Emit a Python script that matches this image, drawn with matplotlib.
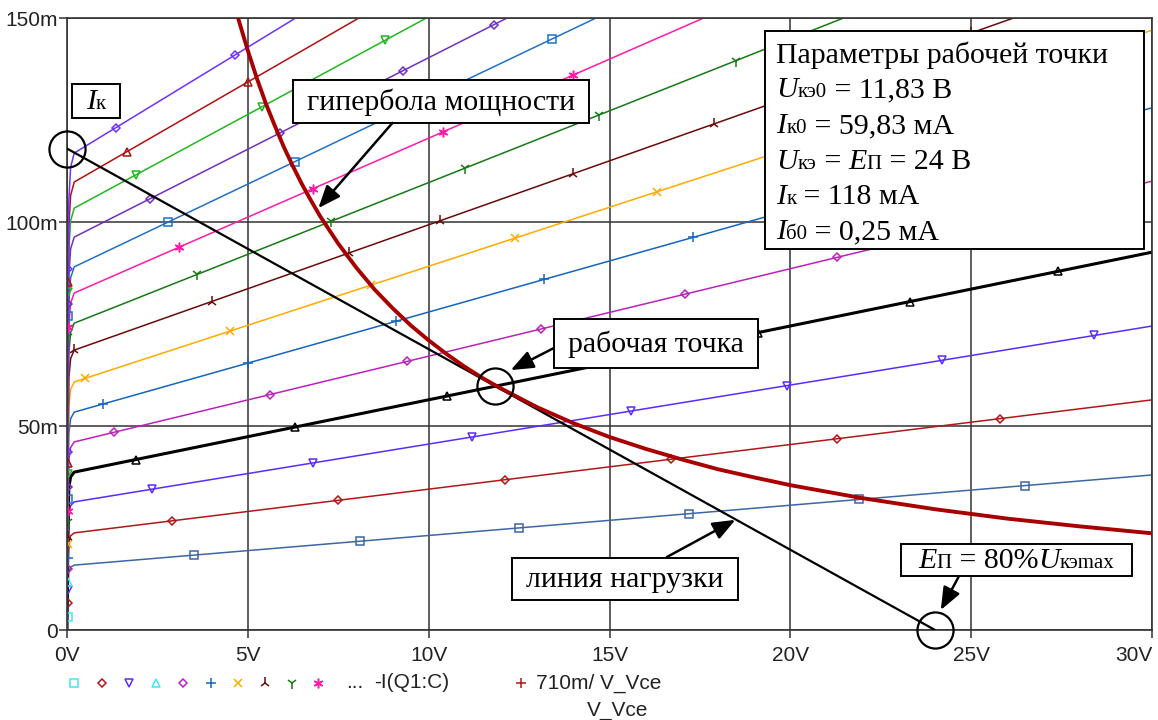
import numpy as np
import matplotlib.pyplot as plt
from matplotlib.lines import Line2D
from matplotlib.patches import Rectangle
from matplotlib.offsetbox import TextArea, HPacker, AnnotationBbox

# --- data ---
# collector current at the knee (~0.2 V) and at 30 V for each base-current step, mA
ic_knee = [15.9, 23.8, 31.4, 38.7, 46.1, 53.4, 60.8, 68.6, 75.2, 82.6, 89.0, 96.3, 103.4, 109.8, 116.9]
ic_30v = [38.0, 56.4, 74.5, 92.6, 110, 128, 147, 162, 180, 198, 215, 230, 246, 262, 278]
# shape of the saturation part, shared by all curves
knee_v = [0.0, 0.02, 0.05, 0.1, 0.2]
knee_frac = [0.0, 0.5, 0.9, 0.97, 1.0]

curve_colors = ['#3d66a3', '#b01818', '#5b2bff', '#000000', '#bb22bb', '#1565c0', '#ffaa00',
                '#6a0a0a', '#157a15', '#ff1aa8', '#2070c8', '#7030c0', '#20b820', '#b01010', '#7030ff']
curve_markers = ['s', 'D', 'v', '^', 'D', '+', 'x', '2', '1', 'ast', 's', 'D', 'v', '^', 'D']
marker_v = [
    [3.5, 8.1, 12.5, 17.2, 21.9, 26.5],
    [2.9, 7.5, 12.1, 16.7, 21.3, 25.8],
    [2.35, 6.8, 11.2, 15.6, 19.9, 24.2, 28.4],
    [1.9, 6.3, 10.5, 14.8, 19.1, 23.3, 27.4],
    [1.3, 5.6, 9.4, 13.1, 17.1, 21.3, 25.3],
    [1.0, 5.0, 9.1, 13.2, 17.3, 21.4, 25.5],
    [0.5, 4.5, 8.4, 12.4, 16.3, 20.3, 24.3],
    [0.2, 4.0, 7.8, 10.3, 14.0, 17.9, 21.5, 25.0],
    [3.6, 7.3, 11.0, 14.7, 18.5, 22.2],
    [3.1, 6.8, 10.4, 14.0],
    [2.8, 6.3, 9.9, 13.4],
    [2.3, 5.9, 9.3, 11.8],
    [1.9, 5.4, 8.8],
    [1.65, 5.0],
    [1.35, 4.65],
]

# markers sitting on the steep part near 0 V
vert_ic = [3.2, 6.6, 9.8, 11.8, 15.0, 17.6, 21.1, 22.8, 26.5, 29.2, 32.1, 35.0, 38.2, 40.9, 43.6,
           71.8, 74.3, 77.0, 79.9, 82.8, 85.3, 88.5]
vert_markers = ['s', 'D', 'v', '^', 'D', '+', 'x', '2', '1', 'ast', 's', 'D', 'v', '^', 'D',
                '1', 'ast', 's', 'D', 'v', '^', 'D']
vert_colors = ['#40e8f0', '#b01818', '#5b2bff', '#40e8f0', '#bb22bb', '#1565c0', '#ffaa00', '#6a0a0a',
               '#157a15', '#ff1aa8', '#2070c8', '#7030c0', '#20b820', '#b01010', '#7030ff',
               '#157a15', '#ff1aa8', '#2070c8', '#7030c0', '#20b820', '#b01010', '#7030ff']

# power hyperbola 710m / V_Vce
hyp_v = [4.73, 5, 5.25, 5.5, 5.75, 6, 6.25, 6.5, 6.75, 7, 7.5, 8, 8.5, 9, 9.5, 10, 10.5, 11, 11.5,
         12, 13, 14, 15, 16, 17, 18, 19, 20, 22, 24, 26, 28, 30]
hyp_i = [150, 142, 135.2, 129, 123.5, 118.3, 113.6, 109.2, 105.2, 101.4, 94.7, 88.8, 83.5, 78.9,
         74.7, 71.0, 67.6, 64.5, 61.7, 59.2, 54.6, 50.7, 47.3, 44.4, 41.8, 39.4, 37.4, 35.5,
         32.3, 29.6, 27.3, 25.4, 23.7]

# load line and operating point
load_v = [0, 24]
load_i = [118, 0]
q_v, q_i = 11.83, 59.83

x_ticks = [0, 5, 10, 15, 20, 25, 30]
x_labels = ['0V', '5V', '10V', '15V', '20V', '25V', '30V']
y_ticks = [0, 50, 100, 150]
y_labels = ['0', '50m', '100m', '150m']

legend_markers = ['s', 'D', 'v', '^', 'D', '+', 'x', '2', '1', 'ast']
legend_colors = ['#40e8f0', '#b01818', '#5b2bff', '#40e8f0', '#bb22bb', '#1565c0', '#ffaa00',
                 '#6a0a0a', '#157a15', '#ff1aa8']

SERIF = 'Liberation Serif'
SANS = 'Liberation Sans'
W, H = 1158, 720
TICK_FS = 15


def mk(m):
    return (6, 2, 0) if m == 'ast' else m


def mstyle(m, c):
    open_m = m in ('s', 'D', 'v', '^')
    size = {'s': 5.5, 'D': 4.5, 'v': 6, '^': 6, '+': 7, 'x': 6, '1': 8, '2': 8, 'ast': 7}[m]
    return dict(marker=mk(m), ms=size, mec=c, mfc='none' if open_m else c, mew=1.1, ls='none')


fig = plt.figure(figsize=(W / 100, H / 100), dpi=100)
ax = fig.add_axes([67 / W, 90 / H, (1152 - 67) / W, (630 - 18) / H])
ax.set_xlim(0, 30)
ax.set_ylim(0, 150)

ax.set_xticks(x_ticks)
ax.set_xticklabels(x_labels, fontfamily=SANS, fontsize=TICK_FS, color='#222222')
ax.get_xticklabels()[-1].set_horizontalalignment('right')
ax.set_yticks(y_ticks)
ax.set_yticklabels(y_labels, fontfamily=SANS, fontsize=TICK_FS, color='#222222')
ax.tick_params(direction='out', length=5.5, width=1.1, color='#333333')
ax.tick_params(axis='x', pad=6)
ax.tick_params(axis='y', pad=1)
ax.grid(True, color='#333333', lw=1.1)
ax.set_axisbelow(True)
for s in ax.spines.values():
    s.set_color('#333333')
    s.set_linewidth(1.2)

# output characteristics
for k in range(len(ic_knee)):
    v = knee_v + [30]
    i = [ic_knee[k] * f for f in knee_frac] + [ic_30v[k]]
    lw = 2.2 if curve_colors[k] == '#000000' else 1.1
    ax.plot(v, i, color=curve_colors[k], lw=lw, zorder=2)
    mv = marker_v[k]
    ax.plot(mv, np.interp(mv, v, i), zorder=2, **mstyle(curve_markers[k], curve_colors[k]))

for ic, m, c in zip(vert_ic, vert_markers, vert_colors):
    ax.plot([0.04], [ic], zorder=2.5, **mstyle(m, c))

# power hyperbola and load line
ax.plot(load_v, load_i, color='black', lw=1.6, zorder=3)
ax.plot(hyp_v, hyp_i, color='#a80000', lw=2.8, zorder=3.5, solid_joinstyle='round')

# circles
for cv, ci in [(0, 118), (q_v, q_i), (24, 0)]:
    ax.plot([cv], [ci], 'o', ms=26, mfc='none', mec='black', mew=1.6, clip_on=False, zorder=5)


def rich(parts):
    kids = [TextArea(t, textprops=dict(fontsize=fs, fontstyle=st, fontfamily=SERIF, color='black'))
            for t, fs, st in parts]
    return HPacker(children=kids, align='baseline', pad=0, sep=0)


def put(parts, x, y, ha=0.5):
    ab = AnnotationBbox(rich(parts), (x, y), xycoords='data', box_alignment=(ha, 0.5),
                        frameon=False, pad=0, zorder=7, annotation_clip=False)
    ax.add_artist(ab)


def frame(x0, x1, y0, y1):
    ax.add_patch(Rectangle((x0, y0), x1 - x0, y1 - y0, facecolor='white', edgecolor='black',
                           lw=1.4, zorder=6, clip_on=False))


def arrow(x0, y0, x1, y1):
    ax.annotate('', xy=(x1, y1), xytext=(x0, y0), zorder=8,
                arrowprops=dict(arrowstyle='-|>,head_length=0.55,head_width=0.22',
                                mutation_scale=25, color='black', lw=1.8, shrinkA=0, shrinkB=0))


FS, SUB = 21.5, 15

frame(0.14, 1.47, 125.5, 133.8)
put([('I', FS, 'italic'), ('к', SUB, 'normal')], 0.80, 129.5)

frame(6.26, 14.43, 124.3, 134.8)
put([('гипербола мощности', FS, 'normal')], 10.35, 129.3)
arrow(9.0, 124.3, 6.95, 103.4)

frame(13.46, 19.11, 64.2, 76.2)
put([('рабочая точка', FS, 'normal')], 16.29, 70.0)
arrow(13.46, 69.1, 12.27, 63.7)

frame(12.3, 18.56, 7.4, 17.6)
put([('линия нагрузки', FS, 'normal')], 15.43, 12.3)
arrow(16.59, 17.9, 18.48, 27.0)

frame(23.05, 29.45, 13.2, 21.1)
put([('E', FS, 'italic'), ('П', SUB, 'normal'), (' = 80%', FS, 'normal'),
     ('U', FS, 'italic'), ('кэmax', SUB, 'normal')], 26.25, 17.0)
arrow(24.65, 13.0, 24.16, 4.9)

frame(19.31, 29.78, 93.4, 146.8)
param_lines = [
    [('Параметры рабочей точки', FS, 'normal')],
    [('U', FS, 'italic'), ('кэ0', SUB, 'normal'), (' = 11,83 В', FS, 'normal')],
    [('I', FS, 'italic'), ('к0', SUB, 'normal'), (' = 59,83 мА', FS, 'normal')],
    [('U', FS, 'italic'), ('кэ', SUB, 'normal'), (' = ', FS, 'normal'), ('E', FS, 'italic'),
     ('П', SUB, 'normal'), (' = 24 В', FS, 'normal')],
    [('I', FS, 'italic'), ('к', SUB, 'normal'), (' = 118 мА', FS, 'normal')],
    [('I', FS, 'italic'), ('б0', SUB, 'normal'), (' = 0,25 мА', FS, 'normal')],
]
param_y = [140.9, 132.3, 123.5, 114.6, 106.1, 97.5]
for parts, py in zip(param_lines, param_y):
    put(parts, 19.61, py, ha=0.0)

# legend row under the x axis
ly = 1 - 683 / H
legend_x = [74, 102, 129, 156, 183, 211, 238, 265, 292, 318]
for lx, m, c in zip(legend_x, legend_markers, legend_colors):
    fig.add_artist(Line2D([lx / W], [ly], transform=fig.transFigure, **mstyle(m, c)))
fig.text(346 / W, ly, '...', fontfamily=SANS, fontsize=TICK_FS, va='center', color='#222222')
fig.text(374 / W, ly, '-I(Q1:C)', fontfamily=SANS, fontsize=TICK_FS, va='center', color='#222222')
fig.add_artist(Line2D([521 / W], [ly], transform=fig.transFigure, **mstyle('+', '#b01818')))
fig.text(536 / W, ly, '710m/ V_Vce', fontfamily=SANS, fontsize=TICK_FS, va='center', color='#222222')
fig.text(587 / W, 1 - 711 / H, 'V_Vce', fontfamily=SANS, fontsize=TICK_FS, va='center', color='#222222')

fig.savefig('out.png', dpi=100)
